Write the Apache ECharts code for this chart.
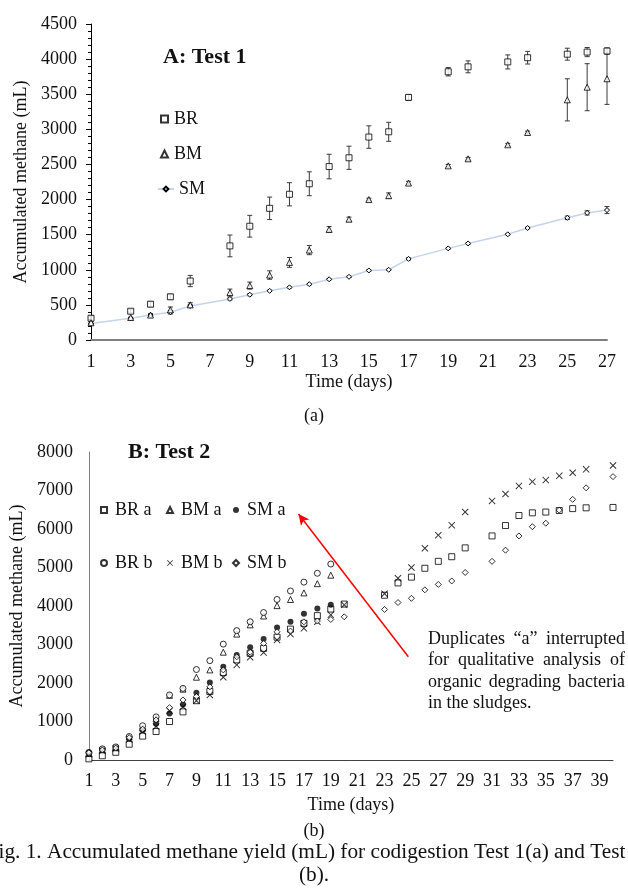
<!DOCTYPE html>
<html>
<head>
<meta charset="utf-8">
<script src="https://cdn.jsdelivr.net/npm/echarts@6/dist/echarts.min.js"></script>
<style>
  body { margin: 0; background: #fff; }
  #chart { width: 628px; height: 891px; }
</style>
</head>
<body>
<div id="chart"></div>
<script>
// Test 1 (top panel)
const daysTest1 = [1, 3, 4, 5, 6, 8, 9, 10, 11, 12, 13, 14, 15, 16, 17, 19, 20, 22, 23, 25, 26, 27]
const brTest1 = [310, 410, 510, 615, 840, 1340, 1620, 1875, 2075, 2225, 2470, 2595, 2890, 2965, 3455, 3820, 3890, 3960, 4020, 4070, 4100, 4115]
const brErrTest1 = [30, 25, 35, 35, 80, 155, 155, 160, 165, 170, 175, 165, 160, 135, 40, 60, 85, 100, 90, 85, 65, 45]
const bmTest1 = [245, 320, 355, 430, 500, 675, 775, 925, 1105, 1280, 1575, 1720, 2000, 2055, 2235, 2480, 2580, 2780, 2955, 3420, 3600, 3720]
const bmErrTest1 = [20, 0, 20, 40, 30, 50, 50, 60, 70, 65, 40, 30, 20, 40, 25, 20, 20, 20, 20, 300, 335, 365]
const smTest1 = [235, 310, 355, 395, 485, 585, 645, 700, 750, 795, 865, 900, 990, 1000, 1155, 1305, 1375, 1505, 1595, 1740, 1810, 1850]
const smErrTest1 = [10, 15, 15, 25, 20, 15, 15, 10, 10, 10, 10, 10, 10, 10, 15, 10, 10, 10, 10, 25, 30, 50]

// Test 2 (bottom panel), days 1-20
const daysTest2 = [1, 2, 3, 4, 5, 6, 7, 8, 9, 10, 11, 12, 13, 14, 15, 16, 17, 18, 19, 20]
const brA = [30, 110, 200, 410, 620, 740, 1000, 1250, 1540, 1780, 2270, 2600, 2770, 2900, 3190, 3400, 3550, 3750, 3920, 4050]
const bmA = [170, 270, 320, 600, 830, 1080, 1680, 1840, 2150, 2340, 2800, 3270, 3510, 3740, 4010, 4170, 4340, 4580, 4800, null]
const smA = [210, 280, 330, 560, 780, 940, 1210, 1440, 1750, 2010, 2420, 2730, 2930, 3140, 3440, 3590, 3800, 3935, 4030, null]
const brB = [180, 290, 340, 610, 890, 1120, 1690, 1860, 2350, 2580, 3010, 3360, 3590, 3830, 4170, 4390, 4620, 4850, 5090, null]
const bmB = [150, 240, 300, 530, 740, 870, 1280, 1380, 1540, 1690, 2150, 2470, 2670, 2790, 3120, 3270, 3420, 3590, 3770, 4030]
const smB = [190, 260, 310, 580, 800, 1040, 1360, 1560, 1650, 1900, 2340, 2680, 2800, 3030, 3330, 3350, 3590, 3610, 3650, 3720]

// Test 2 after the interruption
const daysTest2Late = [23, 24, 25, 26, 27, 28, 29, 31, 32, 33, 34, 35, 36, 37, 38, 40]
const brALate = [4280, 4600, 4750, 4980, 5160, 5280, 5510, 5820, 6090, 6350, 6420, 6440, 6480, 6530, 6550, 6560]
const bmBLate = [4320, 4720, 5000, 5500, 5840, 6100, 6440, 6730, 6910, 7120, 7230, 7270, 7380, 7460, 7550, 7650]
const smBLate = [3910, 4090, 4200, 4420, 4560, 4650, 4870, 5160, 5450, 5820, 6060, 6150, 6490, 6770, 7070, 7360]

const annotationLines = [
  'Duplicates \u201ca\u201d interrupted',
  'for qualitative analysis of',
  'organic degrading bacteria',
  'in the sludges.'
]
// arrow from the note to the legend, in data units of the bottom panel
const arrowFrom = [24.77, 2680]
const arrowTo = [16.6, 6390]

const serif = '"Liberation Serif", "Times New Roman", serif'
const crossSymbol = 'path://M1,0L5,4L9,0L10,1L6,5L10,9L9,10L5,6L1,10L0,9L4,5L0,1Z'

const pairs = (xs, ys) => xs.map((x, i) => [x, ys[i]]).filter(p => p[1] != null)
const triples = (xs, ys, es) => xs.map((x, i) => [x, ys[i], es[i]])

const errorBarItem = (params, api) => {
  const x = api.value(0)
  const lo = api.coord([x, api.value(1) - api.value(2)])
  const hi = api.coord([x, api.value(1) + api.value(2)])
  const w = 2.5
  const style = { stroke: '#3a3a3a', lineWidth: 1 }
  return {
    type: 'group',
    children: [
      { type: 'line', shape: { x1: lo[0], y1: lo[1], x2: hi[0], y2: hi[1] }, style },
      { type: 'line', shape: { x1: lo[0] - w, y1: lo[1], x2: lo[0] + w, y2: lo[1] }, style },
      { type: 'line', shape: { x1: hi[0] - w, y1: hi[1], x2: hi[0] + w, y2: hi[1] }, style }
    ]
  }
}

const hollow = { color: '#fff', borderColor: '#000', borderWidth: 1 }
const labelText = { fontFamily: serif, fontSize: 18, color: '#111' }
const topLegendText = Object.assign({ padding: [0, 0, 0, 1] }, labelText)
const legendText = Object.assign({ padding: [0, 0, 0, 3] }, labelText)
const oddOnly = v => (v % 2 === 1 ? String(v) : '')

const text = (str, x, y, font, align) => ({
  type: 'text',
  x, y,
  style: {
    text: str,
    font,
    fill: '#111',
    textAlign: align || 'center',
    textVerticalAlign: 'middle'
  }
})

const measureCtx = document.createElement('canvas').getContext('2d')
const textWidth = (str, font) => {
  measureCtx.font = font
  return measureCtx.measureText(str).width
}

// justified note, last line left aligned
const justified = (lines, x0, x1, y0, lineH, font) => {
  let out = []
  lines.forEach((line, i) => {
    let y = y0 + i * lineH
    if (i === lines.length - 1) {
      out.push(text(line, x0, y, font, 'left'))
      return
    }
    let words = line.split(' ')
    let widths = words.map(w => textWidth(w, font))
    let space = (x1 - x0 - widths.reduce((a, b) => a + b, 0)) / (words.length - 1)
    let x = x0
    words.forEach((w, j) => {
      out.push(text(w, x, y, font, 'left'))
      x += widths[j] + space
    })
  })
  return out
}

// one vertical legend per column of the Test 2 key
const test2Legend = (names, left) => ({
  data: names, orient: 'vertical', left, top: 496,
  itemWidth: 6, itemHeight: 6, itemGap: 35, textStyle: legendText
})

const getOption = () => ({
  animation: false,
  backgroundColor: '#fff',
  grid: [
    { left: 91, top: 24, width: 516, height: 316 },
    { left: 87, top: 452, width: 526, height: 308 }
  ],
  xAxis: [
    {
      gridIndex: 0, type: 'value', min: 1, max: 27, interval: 1,
      axisLine: { show: true, lineStyle: { color: '#7f7f7f', width: 2 } },
      axisTick: { show: false },
      splitLine: { show: false },
      axisLabel: Object.assign({ formatter: oddOnly, margin: 13 }, labelText),
      name: 'Time (days)', nameLocation: 'middle', nameGap: 33,
      nameTextStyle: labelText
    },
    {
      gridIndex: 1, type: 'value', min: 1, max: 40, interval: 1,
      axisLine: { show: true, lineStyle: { color: '#404040', width: 1 } },
      axisTick: { show: false },
      splitLine: { show: false },
      axisLabel: Object.assign({ formatter: oddOnly, margin: 12 }, labelText),
      name: 'Time (days)', nameLocation: 'middle', nameGap: 36,
      nameTextStyle: labelText
    }
  ],
  yAxis: [
    {
      gridIndex: 0, type: 'value', min: 0, max: 4500, interval: 500,
      axisLine: { show: true, lineStyle: { color: '#000', width: 1 } },
      axisTick: { show: true, inside: false, length: 5, lineStyle: { color: '#000' } },
      minorTick: { show: true, splitNumber: 5, length: 3, lineStyle: { color: '#000' } },
      splitLine: { show: false },
      axisLabel: Object.assign({ margin: 14, formatter: v => String(v) }, labelText),
      name: 'Accumulated methane (mL)', nameLocation: 'middle', nameGap: 41,
      nameTextStyle: labelText
    },
    {
      gridIndex: 1, type: 'value', min: 0, max: 8000, interval: 1000,
      axisLine: { show: true, lineStyle: { color: '#7f7f7f', width: 1 } },
      axisTick: { show: false },
      splitLine: { show: false },
      axisLabel: Object.assign({ margin: 16, formatter: v => String(v) }, labelText),
      name: 'Accumulated methane (mL)', nameLocation: 'middle', nameGap: 38,
      nameTextStyle: labelText
    }
  ],
  legend: [
    {
      data: ['BR', 'BM'], orient: 'vertical', left: 155, top: 105,
      itemWidth: 7, itemHeight: 7, itemGap: 17, textStyle: topLegendText
    },
    {
      data: ['SM'], orient: 'vertical', left: 152, top: 175,
      itemWidth: 16, itemHeight: 6, textStyle: labelText
    },
    test2Legend(['BR a', 'BR b'], 95),
    test2Legend(['BM a', 'BM b'], 161),
    test2Legend(['SM a', 'SM b'], 227)
  ],
  series: [
    // error bars under the markers
    { type: 'custom', name: 'BR err', xAxisIndex: 0, yAxisIndex: 0, renderItem: errorBarItem, data: triples(daysTest1, brTest1, brErrTest1), z: 1, silent: true },
    { type: 'custom', name: 'BM err', xAxisIndex: 0, yAxisIndex: 0, renderItem: errorBarItem, data: triples(daysTest1, bmTest1, bmErrTest1), z: 1, silent: true },
    { type: 'custom', name: 'SM err', xAxisIndex: 0, yAxisIndex: 0, renderItem: errorBarItem, data: triples(daysTest1, smTest1, smErrTest1), z: 1, silent: true },
    { type: 'scatter', name: 'BR', xAxisIndex: 0, yAxisIndex: 0, symbol: 'rect', symbolSize: 6, itemStyle: hollow, data: pairs(daysTest1, brTest1), z: 3 },
    { type: 'scatter', name: 'BM', xAxisIndex: 0, yAxisIndex: 0, symbol: 'triangle', symbolSize: 6, itemStyle: hollow, data: pairs(daysTest1, bmTest1), z: 3 },
    {
      type: 'line', name: 'SM', xAxisIndex: 0, yAxisIndex: 0, symbol: 'diamond', symbolSize: 5, showSymbol: true,
      itemStyle: hollow, lineStyle: { color: '#c5d4ea', width: 1.5 }, data: pairs(daysTest1, smTest1), z: 2
    },

    { type: 'scatter', name: 'BR a', xAxisIndex: 1, yAxisIndex: 1, symbol: 'rect', symbolSize: 6, itemStyle: hollow, data: pairs(daysTest2, brA).concat(pairs(daysTest2Late, brALate)) },
    { type: 'scatter', name: 'BM a', xAxisIndex: 1, yAxisIndex: 1, symbol: 'triangle', symbolSize: 6, itemStyle: hollow, data: pairs(daysTest2, bmA) },
    {
      type: 'scatter', name: 'SM a', xAxisIndex: 1, yAxisIndex: 1, symbol: 'circle', symbolSize: 6, itemStyle: { color: '#000' }, data: pairs(daysTest2, smA),
      markLine: {
        silent: true, animation: false, symbol: ['none', 'arrow'], symbolSize: [8, 11],
        label: { show: false },
        lineStyle: { color: '#ff0000', width: 1.5, type: 'solid' },
        data: [[{ coord: arrowFrom }, { coord: arrowTo }]]
      }
    },
    { type: 'scatter', name: 'BR b', xAxisIndex: 1, yAxisIndex: 1, symbol: 'circle', symbolSize: 6, itemStyle: hollow, data: pairs(daysTest2, brB) },
    { type: 'scatter', name: 'BM b', xAxisIndex: 1, yAxisIndex: 1, symbol: crossSymbol, symbolSize: 7, itemStyle: { color: '#000' }, data: pairs(daysTest2, bmB).concat(pairs(daysTest2Late, bmBLate)) },
    { type: 'scatter', name: 'SM b', xAxisIndex: 1, yAxisIndex: 1, symbol: 'diamond', symbolSize: 6, itemStyle: hollow, data: pairs(daysTest2, smB).concat(pairs(daysTest2Late, smBLate)) }
  ],
  graphic: [
    text('A: Test 1', 163, 57, `bold 22px ${serif}`, 'left'),
    text('B: Test 2', 128, 452, `bold 22px ${serif}`, 'left'),
    text('(a)', 314, 416, `18px ${serif}`),
    text('(b)', 314, 831, `18px ${serif}`),
    text('Fig. 1. Accumulated methane yield (mL) for codigestion Test 1(a) and Test 2', 314, 852, `21.3px ${serif}`),
    text('(b).', 314, 875, `21.3px ${serif}`)
  ].concat(justified(annotationLines, 428, 625, 639, 21.5, `18px ${serif}`))
})

const chart = echarts.init(document.getElementById('chart'), null, { renderer: 'canvas' })
chart.setOption(getOption())
</script>
</body>
</html>
